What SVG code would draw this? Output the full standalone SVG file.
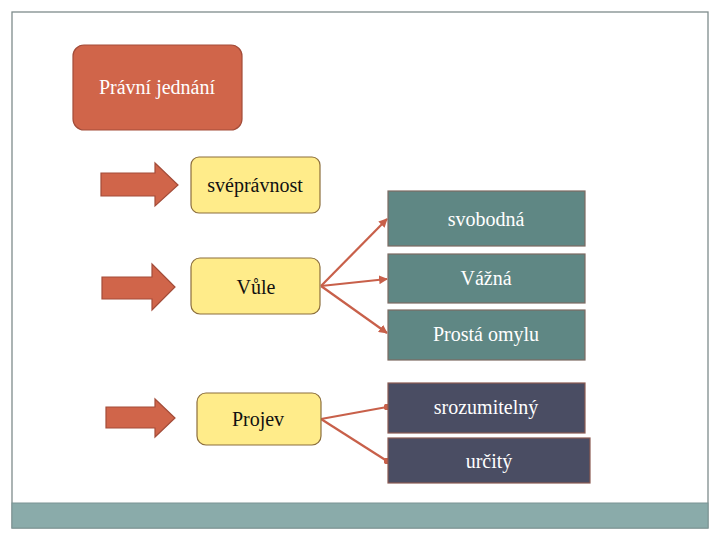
<svg xmlns="http://www.w3.org/2000/svg" width="720" height="540" viewBox="0 0 720 540">
<defs>
<style>
.t{font-family:"Liberation Serif","Times New Roman",serif;font-size:20px;text-anchor:middle}
.w{fill:#ffffff}
.k{fill:#111111}
.red{fill:#D0654A;stroke:#A34C39;stroke-width:1.2}
.yel{fill:#FFEC8A;stroke:#8C6E3C;stroke-width:1.2}
.teal{fill:#5F8784;stroke:#7C6A62;stroke-width:1.2}
.dark{fill:#4A4D63;stroke:#8A5A52;stroke-width:1.2}
.con{stroke:#C8604A;stroke-width:2.2;fill:none}
</style>
<marker id="ah" viewBox="0 0 10 10" refX="9" refY="5" markerWidth="4" markerHeight="4" orient="auto">
<path d="M0,0 L10,5 L0,10 z" fill="#C8604A"/>
</marker>
<marker id="dot" viewBox="0 0 10 10" refX="5" refY="5" markerWidth="3" markerHeight="3">
<circle cx="5" cy="5" r="5" fill="#C8604A"/>
</marker>
</defs>
<rect x="0" y="0" width="720" height="540" fill="#ffffff"/>
<rect x="12" y="12" width="696" height="516" fill="none" stroke="#7F8C8C" stroke-width="1.3"/>
<rect x="12" y="503" width="696" height="25" fill="#8AABAA" stroke="#7A9494" stroke-width="1"/>

<g id="arrows">
<path class="red" d="M101,173 H155 V163 L178,185 L155,206 V196 H101 Z"/>
<path class="red" d="M102,277 H152 V264 L175,287 L152,310 V299 H102 Z"/>
<path class="red" d="M106,407 H155 V399 L175,418 L155,437 V428 H106 Z"/>
</g>

<g id="connectors">
<line class="con" x1="321" y1="286" x2="387" y2="219" marker-end="url(#ah)"/>
<line class="con" x1="321" y1="286" x2="387" y2="279" marker-end="url(#ah)"/>
<line class="con" x1="321" y1="286" x2="387" y2="333" marker-end="url(#ah)"/>
<line class="con" x1="321" y1="419" x2="387" y2="407" marker-end="url(#dot)"/>
<line class="con" x1="321" y1="419" x2="387" y2="461" marker-end="url(#dot)"/>
</g>

<g id="pravni-jednani">
<rect class="red" x="73" y="45" width="169" height="85" rx="11"/>
<text class="t w" x="157" y="94">Právní jednání</text>
</g>
<g id="svepravnost">
<rect class="yel" x="191" y="157" width="129" height="56" rx="8"/>
<text class="t k" x="255" y="192">svéprávnost</text>
</g>
<g id="vule">
<rect class="yel" x="191" y="258" width="129" height="56" rx="9"/>
<text class="t k" x="256" y="294">Vůle</text>
</g>
<g id="projev">
<rect class="yel" x="197" y="393" width="124" height="52" rx="9"/>
<text class="t k" x="258" y="426">Projev</text>
</g>
<g id="svobodna">
<rect class="teal" x="388" y="191" width="197" height="55"/>
<text class="t w" x="486" y="226">svobodná</text>
</g>
<g id="vazna">
<rect class="teal" x="388" y="254" width="197" height="49"/>
<text class="t w" x="486" y="285">Vážná</text>
</g>
<g id="prosta-omylu">
<rect class="teal" x="388" y="310" width="197" height="50"/>
<text class="t w" x="486" y="341">Prostá omylu</text>
</g>
<g id="srozumitelny">
<rect class="dark" x="388" y="383" width="197" height="50"/>
<text class="t w" x="486" y="414">srozumitelný</text>
</g>
<g id="urcity">
<rect class="dark" x="388" y="438" width="202" height="45"/>
<text class="t w" x="489" y="468">určitý</text>
</g>
</svg>
